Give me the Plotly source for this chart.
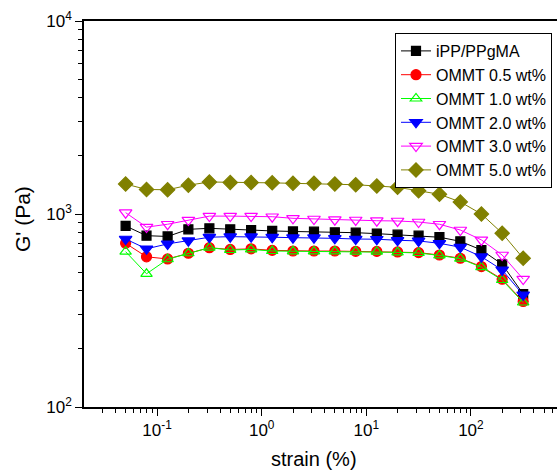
import plotly.graph_objects as go
import numpy as np

strain = [0.05, 0.0792, 0.126, 0.199, 0.316, 0.5, 0.792, 1.26, 1.99, 3.16,
          5.0, 7.92, 12.6, 19.9, 31.6, 50.0, 79.2, 126, 199, 316]

g_ipp = [867, 772, 765, 833, 843, 833, 826, 817, 812, 810,
         804, 800, 791, 781, 772, 758, 722, 651, 549, 385]
g_05 = [705, 600, 585, 626, 669, 655, 660, 648, 643, 643,
        643, 641, 640, 636, 631, 613, 590, 534, 459, 352]
g_10 = [638, 490, 583, 626, 669, 651, 655, 643, 641, 640,
        640, 638, 638, 633, 628, 610, 587, 530, 455, 348]
g_20 = [742, 660, 700, 727, 758, 763, 763, 758, 754, 754,
        748, 742, 740, 731, 725, 705, 673, 601, 513, 381]
g_30 = [1016, 855, 885, 930, 975, 975, 975, 968, 950, 942,
        934, 931, 923, 920, 909, 885, 826, 734, 613, 460]
g_50 = [1430, 1340, 1335, 1410, 1465, 1455, 1455, 1450, 1442, 1442,
        1430, 1418, 1396, 1375, 1320, 1265, 1155, 1000, 795, 590]

names = ["iPP/PPgMA", "OMMT 0.5 wt%", "OMMT 1.0 wt%", "OMMT 2.0 wt%",
         "OMMT 3.0 wt%", "OMMT 5.0 wt%"]
series = [g_ipp, g_05, g_10, g_20, g_30, g_50]
colors = ["#000000", "#FF0000", "#00FF00", "#0000FF", "#FF00FF", "#808000"]
symbols = ["square", "circle", "triangle-up-open", "triangle-down",
           "triangle-down-open", "diamond"]
sizes = [9, 10, 10, 11, 11, 11]

xtick_vals = [0.1, 1, 10, 100]
xtick_text = ["10<sup>-1</sup>", "10<sup>0</sup>", "10<sup>1</sup>", "10<sup>2</sup>"]
ytick_vals = [100, 1000, 10000]
ytick_text = ["10<sup>2</sup>", "10<sup>3</sup>", "10<sup>4</sup>"]

FONT = "Arial, Liberation Sans, sans-serif"

fig = go.Figure()
for name, ys, c, s, sz in zip(names, series, colors, symbols, sizes):
    fig.add_trace(go.Scatter(
        x=strain, y=ys, name=name, mode="lines+markers",
        line=dict(color=c, width=1),
        marker=dict(symbol=s, size=sz, color=c, line=dict(color=c, width=1.2)),
    ))

xminor = [m * 10.0 ** e for e in range(-2, 3) for m in range(2, 10)]
xminor = [v for v in xminor if 0.02 < v < 700]
yminor = [m * 10.0 ** e for e in range(2, 4) for m in range(2, 10)]

L, R, T, B = 84, 0, 21, 67
PW, PH = 557 - L - R, 474 - T - B

fig.update_layout(
    width=557, height=474,
    margin=dict(l=L, r=R, t=T, b=B),
    paper_bgcolor="white", plot_bgcolor="white",
    font=dict(family=FONT, size=17, color="black"),
    showlegend=True,
    legend=dict(
        x=(552 - L) / PW, y=(407 - 33) / PH, xanchor="right", yanchor="top",
        bordercolor="black", borderwidth=1, bgcolor="white",
        font=dict(family=FONT, size=16, color="black"),
        tracegroupgap=0, itemwidth=30,
    ),
    xaxis=dict(
        type="log", range=[np.log10(0.02), 2.823],
        showgrid=False, zeroline=False,
        showline=True, linecolor="black", linewidth=1.5, mirror=True,
        ticks="outside", ticklen=7, tickwidth=1, tickcolor="black",
        tickvals=xtick_vals, ticktext=xtick_text,
        tickfont=dict(family=FONT, size=17),
        minor=dict(tickvals=xminor, ticks="outside", ticklen=4,
                   tickcolor="black", showgrid=False),
    ),
    yaxis=dict(
        type="log", range=[2, 4],
        showgrid=False, zeroline=False,
        showline=True, linecolor="black", linewidth=1.5, mirror=False,
        ticks="outside", ticklen=7, tickwidth=1, tickcolor="black",
        tickvals=ytick_vals, ticktext=ytick_text,
        tickfont=dict(family=FONT, size=17),
        minor=dict(tickvals=yminor, ticks="outside", ticklen=4,
                   tickcolor="black", showgrid=False),
    ),
    annotations=[
        dict(text="strain (%)", xref="paper", yref="paper",
             x=(314 - L) / PW, y=(407 - 472) / PH, xanchor="center", yanchor="bottom",
             showarrow=False, font=dict(family=FONT, size=20)),
        dict(text="G' (Pa)", xref="paper", yref="paper", textangle=-90,
             x=(22 - L) / PW, y=(407 - 219) / PH, xanchor="center", yanchor="middle",
             showarrow=False, font=dict(family=FONT, size=21)),
    ],
)

fig.write_html("out.html")
